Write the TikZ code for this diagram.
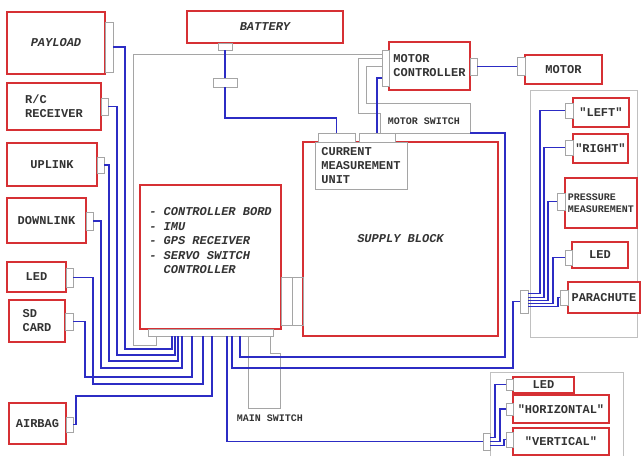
\documentclass[tikz,border=0pt]{standalone}
\usepackage{fontspec}
\newfontfamily\labelfont{Liberation Mono}
\definecolor{boxred}{RGB}{214,48,52}
\definecolor{wireblue}{RGB}{44,44,196}
\definecolor{pluggray}{RGB}{165,165,165}

\begin{document}
\begin{tikzpicture}[x=1pt,y=-1pt,
  box/.style={draw=boxred,line width=1.4pt,fill=white,inner sep=0pt,outer sep=0pt,align=left,text=black!80,
    font=\labelfont\bfseries\fontsize{12}{14}\selectfont},
  ital/.style={font=\labelfont\bfseries\itshape\fontsize{12}{14.5}\selectfont},
  small/.style={font=\labelfont\bfseries\fontsize{10}{12}\selectfont,text=black!80},
  plug/.style={draw=pluggray,line width=0.7pt,fill=white,inner sep=0pt,outer sep=0pt},
  wire/.style={draw=wireblue,line width=1.3pt},
  lead/.style={draw=pluggray,line width=0.7pt},
  grp/.style={draw=pluggray!70,line width=0.6pt}]
\useasboundingbox (0,0) rectangle (641,456);

\draw[grp] (530,90) rectangle (637,337);
\draw[grp] (490,456) |- (623,372) -- (623,456);

\node[box,minimum width=98,minimum height=62,ital] (payload) at (56,43) {PAYLOAD};
\node[box,minimum width=94,minimum height=47] (rc) at (54,106.5) {R/C\\RECEIVER};
\node[box,minimum width=90,minimum height=43] (uplink) at (52,164.5) {UPLINK};
\node[box,minimum width=79,minimum height=45] (downlink) at (46.5,220.5) {DOWNLINK};
\node[box,minimum width=59,minimum height=30] (ledA) at (36.5,277) {LED};
\node[box,minimum width=56,minimum height=42] (sdcard) at (37,321) {SD\\CARD};
\node[box,minimum width=57,minimum height=41] (airbag) at (37.5,423.5) {AIRBAG};
\node[box,minimum width=156,minimum height=32,ital] (battery) at (265,27) {BATTERY};
\node[box,minimum width=81,minimum height=48] (motctl) at (429.5,66) {MOTOR\\CONTROLLER};
\node[box,minimum width=77,minimum height=29] (motor) at (563.5,69.5) {MOTOR};
\node[box,minimum width=195,minimum height=194,ital] (supply) at (400.5,239) {SUPPLY BLOCK};
\node[box,draw=pluggray,fill=none,line width=0.8pt,minimum width=92,minimum height=47] (cmu) at (361,165.5) {CURRENT\\MEASUREMENT\\UNIT};
\node[box,minimum width=141,minimum height=144] (ctrl) at (210.5,257) {};
\node[box,draw=none,fill=none,ital] (ctrltxt) at ([yshift=16pt]ctrl.center)
  {- CONTROLLER BORD\\- IMU\\- GPS RECEIVER\\- SERVO SWITCH\\\hphantom{- }CONTROLLER};
\node[box,minimum width=56,minimum height=29] (left) at (601,112.5) {"LEFT"};
\node[box,minimum width=55,minimum height=29] (right) at (600.5,148.5) {"RIGHT"};
\node[box,minimum width=72,minimum height=50,small] (pressure) at (601,203) {PRESSURE\\MEASUREMENT};
\node[box,minimum width=56,minimum height=26] (ledB) at (600,255) {LED};
\node[box,minimum width=72,minimum height=31] (parachute) at (604,297.5) {PARACHUTE};
\node[box,minimum width=61,minimum height=16] (ledC) at (543.5,385) {LED};
\node[box,minimum width=96,minimum height=28] (horiz) at (561,409) {"HORIZONTAL"};
\node[box,minimum width=96,minimum height=27] (vert) at (561,441.5) {"VERTICAL"};

\node[plug,minimum width=8,minimum height=50] (cpay) at (109,47) {};
\node[plug,minimum width=7,minimum height=17] (crc) at (104.5,106.5) {};
\node[plug,minimum width=7,minimum height=16] (cup) at (100.5,165) {};
\node[plug,minimum width=7,minimum height=18] (cdown) at (89.5,221) {};
\node[plug,minimum width=7,minimum height=19] (cledA) at (69.5,277.5) {};
\node[plug,minimum width=8,minimum height=17] (csd) at (69,321.5) {};
\node[plug,minimum width=7,minimum height=15] (cair) at (69.5,424.5) {};
\node[plug,minimum width=14,minimum height=7] (cbat) at (225,46.5) {};
\node[plug,minimum width=24,minimum height=9] (fuse) at (225,82.5) {};
\node[plug,minimum width=7,minimum height=36] (cmcl) at (385.5,68) {};
\node[plug,minimum width=7,minimum height=17] (cmcr) at (473.5,66.5) {};
\node[plug,minimum width=8,minimum height=18] (cmot) at (521,66.5) {};
\node[plug,minimum width=37,minimum height=9] (ccmuA) at (336.5,137.5) {};
\node[plug,minimum width=36,minimum height=9] (ccmuB) at (377,137.5) {};
\node[plug,minimum width=125,minimum height=7] (cctrl) at (210.5,332.5) {};
\node[plug,minimum width=8,minimum height=23] (cfan) at (524,301.5) {};
\node[plug,minimum width=8,minimum height=15] (cleft) at (569,110.5) {};
\node[plug,minimum width=8,minimum height=15] (cright) at (569,147.5) {};
\node[plug,minimum width=8,minimum height=17] (cpres) at (561,201.5) {};
\node[plug,minimum width=7,minimum height=15] (cledB) at (568.5,257.5) {};
\node[plug,minimum width=8,minimum height=15] (cpara) at (564,297.5) {};
\node[plug,minimum width=7,minimum height=17] (cbot) at (486.5,441.5) {};
\node[plug,minimum width=7,minimum height=11] (cledC) at (509.5,384.5) {};
\node[plug,minimum width=7,minimum height=12] (chor) at (509.5,409) {};
\node[plug,minimum width=7,minimum height=15] (cver) at (509.5,439.5) {};
\coordinate (msw) at (470,133);

\node[small] (mswlbl) at (424,121) {MOTOR SWITCH};
\node[small] (mainlbl) at (270,418) {MAIN SWITCH};

\draw[lead] (cmcl.west |- 0,54) -- (133,54) -- (133,345) -| (156,0 |- cctrl.south);
\draw[lead] ([yshift=10pt]cmcl.west) -| (358,113) -- (380,113) -- (380,133) -- (msw);
\draw[lead] ([yshift=2pt]cmcl.west) -| (366,103) -| (msw);
\draw[lead] (ctrl.east |- 0,277) rectangle (supply.west |- 0,325) (292,277) -- (292,325);
\draw[lead] (248,0 |- cctrl.south) -- (248,408) -- (265,408);
\draw[lead] (270,0 |- cctrl.south) |- (280,353) -- (280,408) -- (265,408);

\draw[wire] (cpay.east) -| (125,349) -| (172,0 |- cctrl.south);
\draw[wire] (crc.east) -| (117,355) -| (175,0 |- cctrl.south);
\draw[wire] (cup.east) -| (109,361) -| (178,0 |- cctrl.south);
\draw[wire] (cdown.east) -| (101,368) -| (182,0 |- cctrl.south);
\draw[wire] (csd.east) -| (85,377) -| (192,0 |- cctrl.south);
\draw[wire] (cledA.east) -| (93,384) -| (203,0 |- cctrl.south);
\draw[wire] (cair.east) -| (76,396) -| (212,0 |- cctrl.south);
\draw[wire] (227,0 |- cctrl.south) |- (cbot.west);
\draw[wire] (232,0 |- cctrl.south) |- (513,368) |- (cfan.west);
\draw[wire] (240,0 |- cctrl.south) |- (505,357) |- (msw);
\draw[wire] (cbat.south) -- (fuse.north);
\draw[wire] (fuse.south) |- (ccmuA.north |- 0,118) -- (ccmuA.north);
\draw[wire] ([yshift=-10pt]cmcl.west) -| (ccmuB.north);
\draw[wire] (cmcr.east) -- (cmot.west);
\foreach \t/\dy/\bx in {cleft/8/540,cright/4/544,cpres/1/548,cledB/-2/553,cpara/-5/558}
  \draw[wire] ([yshift=\dy pt]cfan.east) -| (\bx,0 |- \t.west) -- (\t.west);
\foreach \t/\dy/\bx in {cledC/4/495,chor/0/500,cver/-4/504}
  \draw[wire] ([yshift=\dy pt]cbot.east) -| (\bx,0 |- \t.west) -- (\t.west);
\end{tikzpicture}
\end{document}
